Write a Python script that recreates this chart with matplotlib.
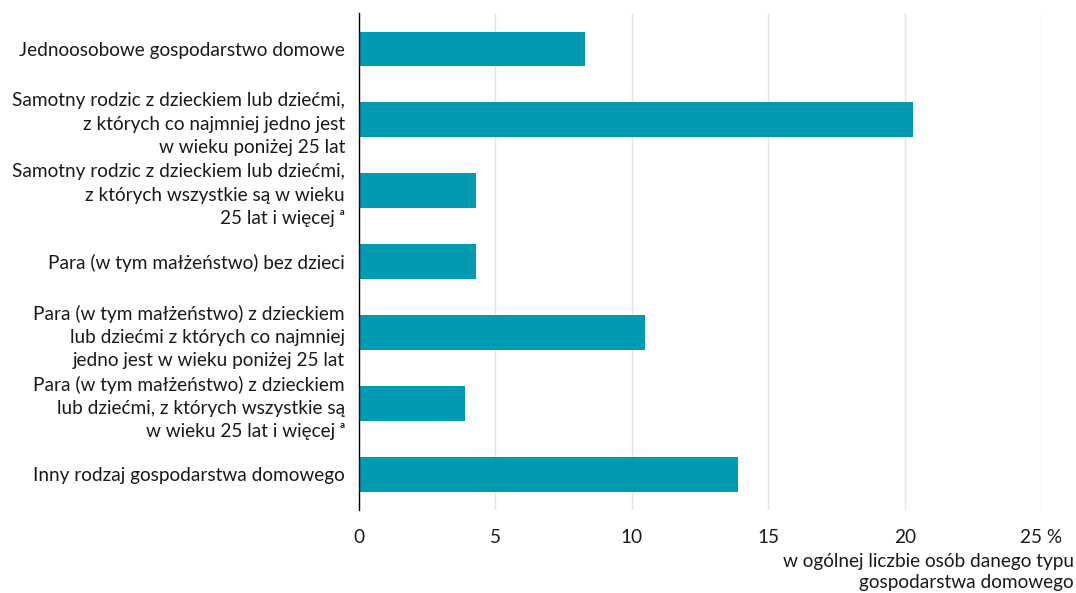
import matplotlib
matplotlib.use("Agg")
import matplotlib.pyplot as plt

plt.rcParams['font.family'] = ['Lato', 'DejaVu Sans']

categories = [
    "Jednoosobowe gospodarstwo domowe",
    "Samotny rodzic z dzieckiem lub dziećmi,\nz których co najmniej jedno jest\nw wieku poniżej 25 lat",
    "Samotny rodzic z dzieckiem lub dziećmi,\nz których wszystkie są w wieku\n25 lat i więcej ᵃ",
    "Para (w tym małżeństwo) bez dzieci",
    "Para (w tym małżeństwo) z dzieckiem\nlub dziećmi z których co najmniej\njedno jest w wieku poniżej 25 lat",
    "Para (w tym małżeństwo) z dzieckiem\nlub dziećmi, z których wszystkie są\nw wieku 25 lat i więcej ᵃ",
    "Inny rodzaj gospodarstwa domowego",
]
values = [8.3, 20.3, 4.3, 4.3, 10.5, 3.9, 13.9]
xticks = [0, 5, 10, 15, 20, 25]
xtick_labels = ["0", "5", "10", "15", "20", "25 %"]

fig = plt.figure(figsize=(10.76, 5.93), dpi=100)
ax = fig.add_axes([0.3336, 0.140, 0.634, 0.838])

y = range(len(categories))
ax.barh(y, values, height=0.48, color='#009ab3', zorder=3)

ax.set_xlim(0, 25)
ax.set_ylim(6.5, -0.5)
ax.set_yticks(list(y))
ax.set_yticklabels(categories, fontsize=13.7, color='#1a1a1a', linespacing=1.45)
ax.set_xticks(xticks)
ax.set_xticklabels(xtick_labels, fontsize=13.7, color='#1a1a1a')
ax.tick_params(axis='both', length=0)
ax.tick_params(axis='x', pad=14)
ax.tick_params(axis='y', pad=10)

ax.grid(axis='x', color='#e3e3e3', linewidth=1, zorder=0)
for s in ['top', 'right', 'bottom']:
    ax.spines[s].set_visible(False)
ax.spines['left'].set_color('black')
ax.spines['left'].set_linewidth(1)
ax.spines['left'].set_zorder(4)

fig.text(0.998, 0.068, "w ogólnej liczbie osób danego typu\ngospodarstwa domowego",
         ha='right', va='top', fontsize=13.7, color='#1a1a1a', linespacing=1.3)

fig.savefig("out.png", dpi=100)
